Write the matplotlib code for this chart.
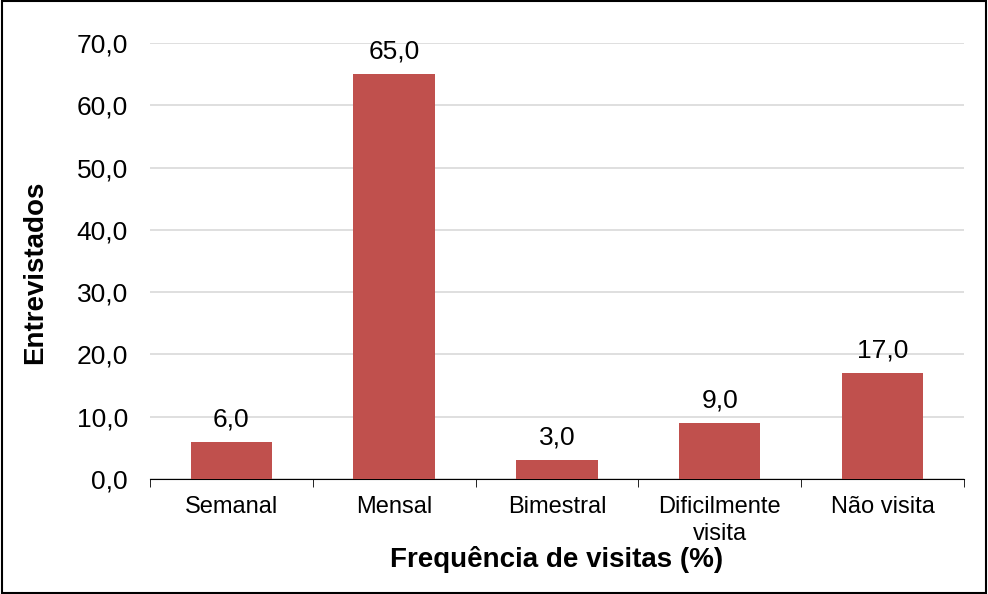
import matplotlib.pyplot as plt
import numpy as np

plt.rcParams['font.family'] = ['Liberation Sans', 'DejaVu Sans']

# dados
categorias = ['Semanal', 'Mensal', 'Bimestral', 'Dificilmente\nvisita', 'Não visita']
valores = [6.0, 65.0, 3.0, 9.0, 17.0]
yticks = [0, 10, 20, 30, 40, 50, 60, 70]

fig = plt.figure(figsize=(9.88, 5.94), dpi=100)
ax = fig.add_axes([0.1518, 0.1936, 0.8239, 0.734])

x = np.arange(len(categorias))
ax.bar(x, valores, width=0.5, color='#C0504D', zorder=3)

for xi, v in zip(x, valores):
    ax.text(xi, v + 1.7, f'{v:.1f}'.replace('.', ','), ha='center', va='bottom', fontsize=19)

ax.set_xlim(-0.5, len(categorias) - 0.5)
ax.set_ylim(0, 70)
ax.set_yticks(yticks)
ax.set_yticklabels([f'{t:.1f}'.replace('.', ',') for t in yticks], fontsize=19)
ax.yaxis.grid(True, color='#D9D9D9', linewidth=1.2, zorder=0)
ax.tick_params(axis='y', length=0, pad=16)

ax.set_xticks(x)
ax.set_xticklabels(categorias, fontsize=17, linespacing=1.3)
ax.set_xticks(np.arange(len(categorias) + 1) - 0.5, minor=True)
ax.tick_params(axis='x', which='major', length=0, pad=12)
ax.tick_params(axis='x', which='minor', length=6, color='black', direction='out')

for s in ['top', 'right', 'left']:
    ax.spines[s].set_visible(False)
ax.spines['bottom'].set_color('black')

ax.set_xlabel('Frequência de visitas (%)', fontsize=20, fontweight='bold', labelpad=1)
ax.set_ylabel('Entrevistados', fontsize=20, fontweight='bold')
ax.yaxis.set_label_coords(-0.125, 0.475)

fig.patches.append(plt.Rectangle((0.002, 0.002), 0.996, 0.996, transform=fig.transFigure,
                                 fill=False, edgecolor='black', linewidth=1.5))

plt.savefig('out.png', dpi=100)
